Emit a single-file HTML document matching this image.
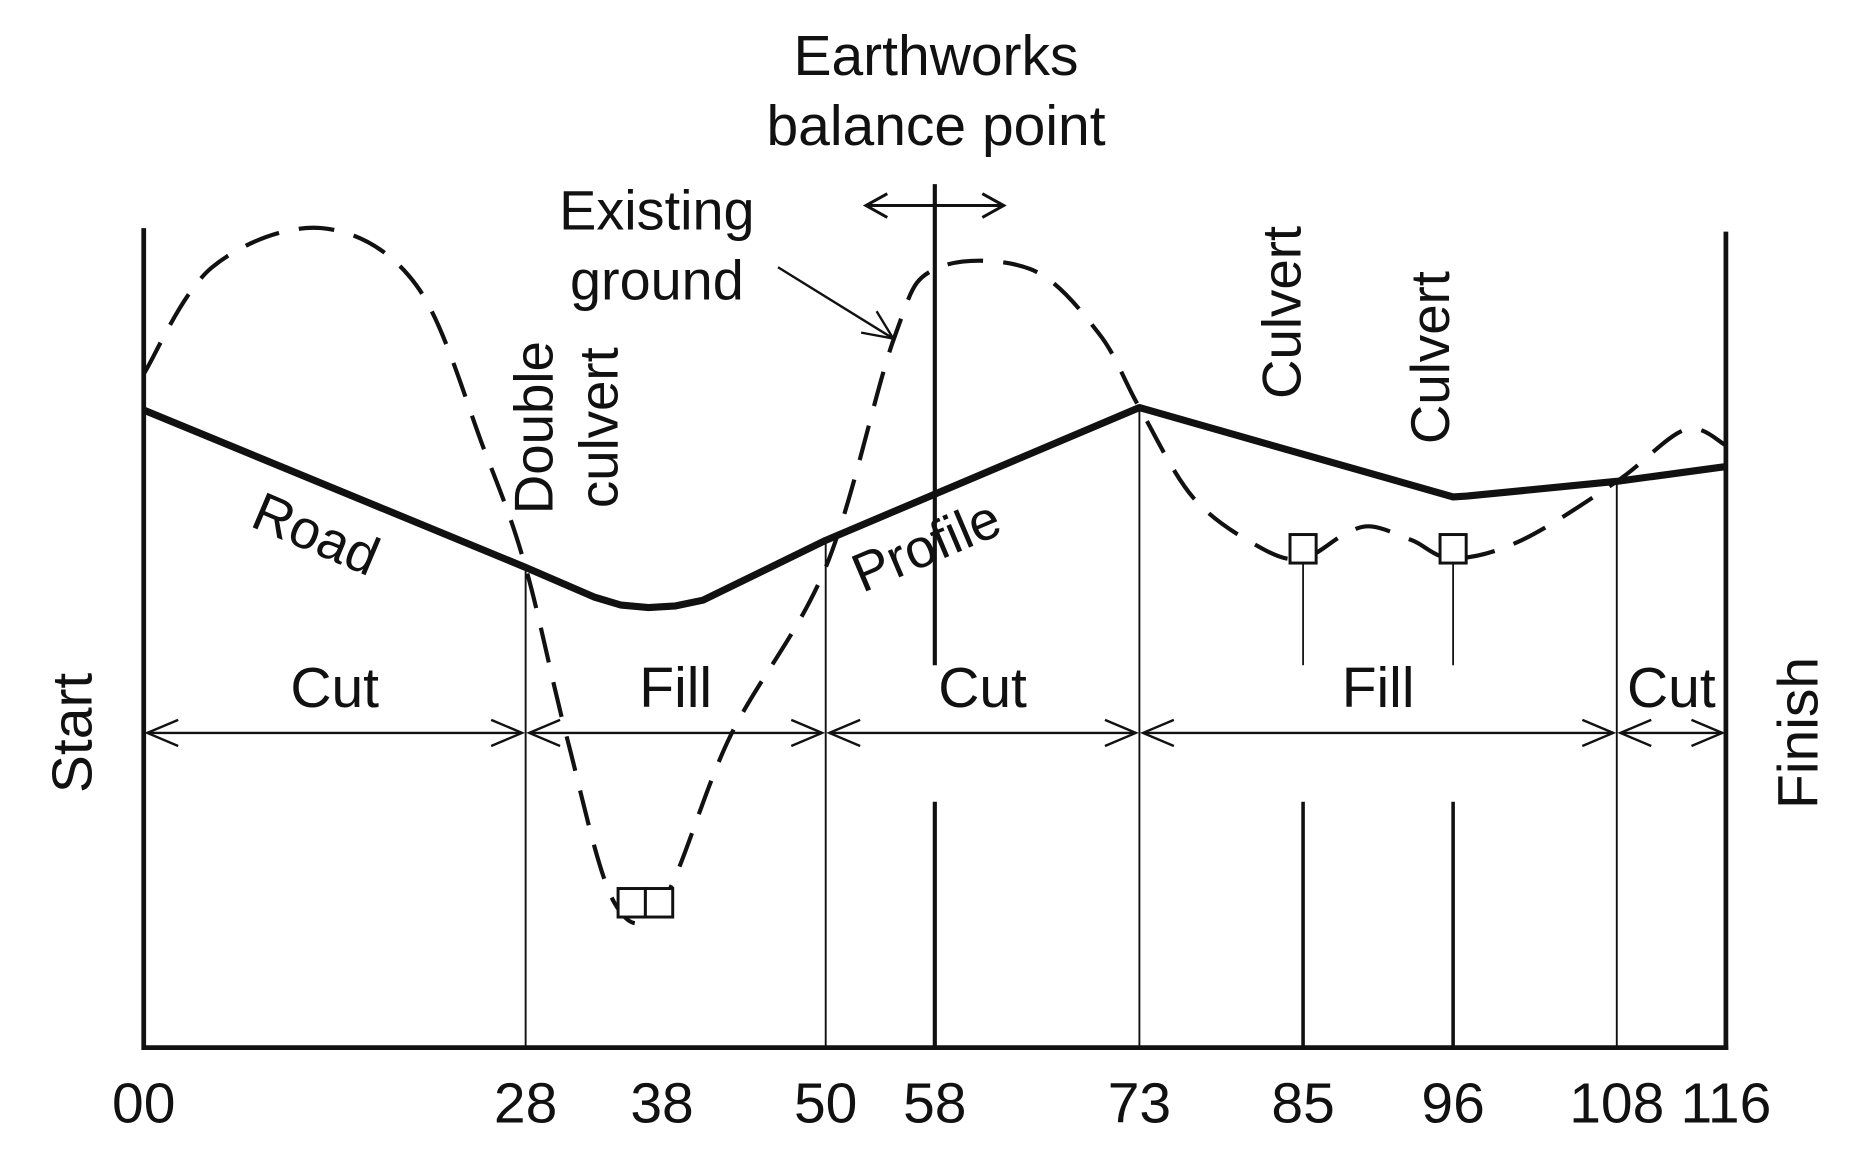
<!DOCTYPE html>
<html><head><meta charset="utf-8"><style>
html,body{margin:0;padding:0;background:#fff;}
svg{display:block;}
text{font-family:"Liberation Sans Narrow","Liberation Sans",sans-serif;fill:#111;}
</style></head><body>
<svg id="chart" width="1853" height="1176" viewBox="0 0 1560 990" xmlns="http://www.w3.org/2000/svg">
<g id="g"></g>
</svg>
<script>
// station categories / tick labels
const stations = [0, 28, 38, 50, 58, 73, 85, 96, 108, 116];
const tickLabels = ["00", "28", "38", "50", "58", "73", "85", "96", "108", "116"];
// road profile (station, elevation)
const roadStations = [0, 28, 33, 35, 37, 39, 41, 50, 73, 96, 97, 108, 116];
const roadElev = [77.8, 58.6, 55.0, 54.0, 53.7, 53.9, 54.6, 61.9, 78.1, 67.2, 67.3, 69.1, 70.9];
// existing ground (station, elevation)
const groundStations = [0, 5, 13, 20, 25, 28, 31, 34.5, 38, 43, 50, 55, 58, 65, 70, 73, 77, 82, 85, 88, 90, 93, 96, 101, 108, 113, 116];
const groundElev = [82.2, 95.2, 100, 93, 72.8, 58.6, 38, 17.7, 17.7, 38, 58.6, 86.5, 95.0, 95.0, 87.2, 78.1, 67, 60.9, 59.7, 62.6, 63.6, 61.9, 59.7, 61.9, 69.1, 75.4, 73.5];
// section boundaries and labels
const sectionBounds = [0, 28, 50, 73, 108, 116];
const sectionLabels = ["Cut", "Fill", "Cut", "Fill", "Cut"];
const crossings = [28, 50, 73, 108];
const culverts = [85, 96];
const balanceStation = 58;
const doubleCulvertStation = 38;

const X0 = 121, X1 = 1453, BASE = 882;
const xs = s => X0 + (X1 - X0) * s / 116;
const ys = e => BASE - e * 6.9;
const NS = "http://www.w3.org/2000/svg";
const g = document.getElementById('g');
function el(tag, attrs, name, txt) {
  const e = document.createElementNS(NS, tag);
  for (const k in attrs) e.setAttribute(k, attrs[k]);
  
  
  if (txt) e.textContent = txt;
  g.appendChild(e);
  return e;
}
function interp(st, ev, s) {
  for (let i = 0; i < st.length - 1; i++) if (s >= st[i] && s <= st[i+1]) return ev[i] + (ev[i+1]-ev[i])*(s-st[i])/(st[i+1]-st[i]);
  return ev[ev.length-1];
}
function smooth(pts) {
  let d = `M${pts[0][0]},${pts[0][1]}`;
  for (let i = 0; i < pts.length - 1; i++) {
    const p0 = pts[Math.max(0,i-1)], p1 = pts[i], p2 = pts[i+1], p3 = pts[Math.min(pts.length-1,i+2)];
    const c1 = [p1[0]+(p2[0]-p0[0])/6, p1[1]+(p2[1]-p0[1])/6];
    const c2 = [p2[0]-(p3[0]-p1[0])/6, p2[1]-(p3[1]-p1[1])/6];
    d += ` C${c1[0]},${c1[1]} ${c2[0]},${c2[1]} ${p2[0]},${p2[1]}`;
  }
  return d;
}
// axes
el('line',{x1:X0,y1:192,x2:X0,y2:BASE+2,stroke:'#111','stroke-width':4},'start-axis-line');
el('line',{x1:X1,y1:195,x2:X1,y2:BASE+2,stroke:'#111','stroke-width':4},'finish-axis-line');
el('line',{x1:X0,y1:BASE,x2:X1+2,y2:BASE,stroke:'#111','stroke-width':4},'baseline');
crossings.forEach(s => {
  el('line',{x1:xs(s),y1:ys(interp(roadStations,roadElev,s)),x2:xs(s),y2:BASE,stroke:'#111','stroke-width':1.6},'section-boundary-line');
});
el('line',{x1:xs(balanceStation),y1:155,x2:xs(balanceStation),y2:560,stroke:'#111','stroke-width':3.5},'balance-point-line');
el('line',{x1:xs(balanceStation),y1:675,x2:xs(balanceStation),y2:BASE,stroke:'#111','stroke-width':3.5},'balance-point-line-lower');
el('line',{x1:xs(balanceStation)-58,y1:173,x2:xs(balanceStation)+58,y2:173,stroke:'#111','stroke-width':2.5},'balance-point-arrow');
el('path',{d:`M${xs(balanceStation)-40},163 L${xs(balanceStation)-58},173 L${xs(balanceStation)-40},183 M${xs(balanceStation)+40},163 L${xs(balanceStation)+58},173 L${xs(balanceStation)+40},183`,fill:'none',stroke:'#111','stroke-width':2.5},'balance-point-arrowheads');
el('path',{d:smooth(groundStations.map((s,i)=>[xs(s),ys(groundElev[i])])),fill:'none',stroke:'#111','stroke-width':3.5,'stroke-dasharray':'30 17'},'existing-ground-line');
el('polyline',{points:roadStations.map((s,i)=>xs(s)+','+ys(roadElev[i])).join(' '),fill:'none',stroke:'#111','stroke-width':6,'stroke-linejoin':'round'},'road-profile-line');
culverts.forEach(s => {
  const x = xs(s);
  el('rect',{x:x-11,y:450,width:22,height:24,fill:'#fff',stroke:'#111','stroke-width':2.5},'culvert-marker');
  el('line',{x1:x,y1:474,x2:x,y2:560,stroke:'#111','stroke-width':1.5},'culvert-leader');
  el('line',{x1:x,y1:675,x2:x,y2:BASE,stroke:'#111','stroke-width':3},'culvert-station-line');
});
const dcx = xs(doubleCulvertStation) - 14;
el('rect',{x:dcx-23,y:748,width:23,height:24,fill:'#fff',stroke:'#111','stroke-width':2.5},'double-culvert-left');
el('rect',{x:dcx,y:748,width:23,height:24,fill:'#fff',stroke:'#111','stroke-width':2.5},'double-culvert-right');
for (let i = 0; i < sectionLabels.length; i++) {
  const a = xs(sectionBounds[i]) + 3, b = xs(sectionBounds[i+1]) - 3;
  el('line',{x1:a,y1:617,x2:b,y2:617,stroke:'#111','stroke-width':2},'section-arrow');
  el('path',{d:`M${a+26},606 L${a},617 L${a+26},628 M${b-26},606 L${b},617 L${b-26},628`,fill:'none',stroke:'#111','stroke-width':2},'section-arrowheads');
  el('text',{x:(a+b)/2,y:595,'font-size':48,'text-anchor':'middle'},'section-label-'+sectionLabels[i].toLowerCase(),sectionLabels[i]);
}
stations.forEach((s,i) => {
  el('text',{x:xs(s),y:945,'font-size':48,'text-anchor':'middle'},'x-tick-label',tickLabels[i]);
});
el('text',{x:788,y:63,'font-size':48,'text-anchor':'middle'},'title-earthworks','Earthworks');
el('text',{x:788,y:122,'font-size':48,'text-anchor':'middle'},'title-balance-point','balance point');
el('text',{x:553,y:193,'font-size':47,'text-anchor':'middle'},'existing-ground-label','Existing');
el('text',{x:553,y:252,'font-size':47,'text-anchor':'middle'},'existing-ground-label-2','ground');
el('line',{x1:655,y1:225,x2:752,y2:285,stroke:'#111','stroke-width':2},'existing-ground-pointer');
el('path',{d:'M725,280 L752,285 L738,262',fill:'none',stroke:'#111','stroke-width':2},'existing-ground-pointer-head');
el('text',{x:265,y:465,'font-size':46,'text-anchor':'middle',transform:'rotate(23 265 452)'},'road-label','Road');
el('text',{x:780,y:475,'font-size':46,'text-anchor':'middle',transform:'rotate(-23 780 460)'},'profile-label','Profile');
el('text',{x:480,y:375,'font-size':46,'text-anchor':'middle',transform:'rotate(-90 465 375)'},'double-culvert-label','Double');
el('text',{x:535,y:375,'font-size':46,'text-anchor':'middle',transform:'rotate(-90 520 375)'},'double-culvert-label-2','culvert');
el('text',{x:1110,y:278,'font-size':46,'text-anchor':'middle',transform:'rotate(-90 1095 278)'},'culvert-label-1','Culvert');
el('text',{x:1235,y:316,'font-size':46,'text-anchor':'middle',transform:'rotate(-90 1220 316)'},'culvert-label-2','Culvert');
el('text',{x:62,y:632,'font-size':48,'text-anchor':'middle',transform:'rotate(-90 62 617)'},'start-label','Start');
el('text',{x:1515,y:632,'font-size':48,'text-anchor':'middle',transform:'rotate(-90 1515 617)'},'finish-label','Finish');
</script>
</body></html>
